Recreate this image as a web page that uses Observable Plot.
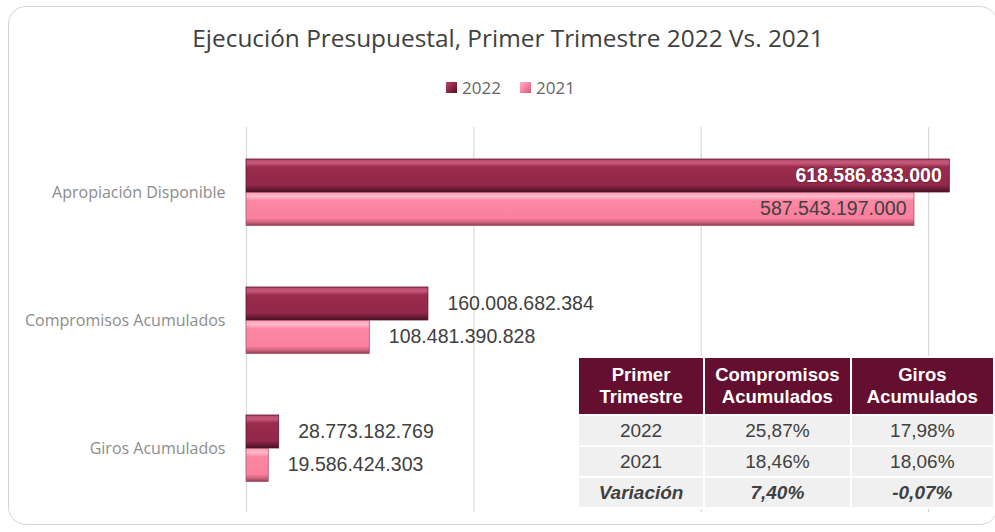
<!DOCTYPE html>
<html>
<head>
<meta charset="utf-8">
<script src="https://cdn.jsdelivr.net/npm/d3@7"></script>
<script src="https://cdn.jsdelivr.net/npm/@observablehq/plot@0.6"></script>
<style>
  html, body { margin: 0; padding: 0; background: #fff; }
  #wrap { position: relative; width: 995px; height: 532px; overflow: hidden; font-family: "Liberation Sans", Arial, sans-serif; }
  #frame { position: absolute; left: 8px; top: 6px; width: 990px; height: 519px; border: 1.5px solid #d4d4d4; border-radius: 18px; box-sizing: border-box; }
  #title { position: absolute; left: 0; width: 1016px; top: 21px; text-align: center; font-family: "Open Sans", "Noto Sans", sans-serif; font-size: 24.4px; color: #404040; }
  .leg { position: absolute; top: 76px; font-family: "Open Sans", "Noto Sans", sans-serif; font-size: 17px; color: #666; display: flex; align-items: center; }
  .sw { width: 11px; height: 11px; margin-right: 5px; }
  #chart { position: absolute; left: 0; top: 0; }
  #tbl { position: absolute; left: 577px; top: 356px; border-collapse: collapse; font-family: "Liberation Sans", Arial, sans-serif; }
  #tbl td, #tbl th { padding: 0; text-align: center; border: 2px solid #fff; }
  #tbl th { background: #640f2f; color: #fff; font-weight: bold; font-size: 18.5px; line-height: 22px; height: 56px; }
  #tbl td { background: #f0f0f0; color: #404040; font-size: 19px; height: 29px; }
  #tbl tr.var td { font-weight: bold; font-style: italic; }
</style>
</head>
<body>
<div id="wrap">
  <div id="frame"></div>
  <div id="title"></div>
  <div id="legend"></div>
  <div id="chart"></div>
  <table id="tbl"></table>
</div>
<script>
// ---- data ----
const titleText = "Ejecución Presupuestal, Primer Trimestre 2022 Vs. 2021";
const categories = ["Apropiación Disponible", "Compromisos Acumulados", "Giros Acumulados"];
const series = ["2022", "2021"];
const values2022 = [618586833000, 160008682384, 28773182769];
const values2021 = [587543197000, 108481390828, 19586424303];
const gridTicks = [0, 200e9, 400e9, 600e9];

const tableHeader = ["Primer<br>Trimestre", "Compromisos<br>Acumulados", "Giros<br>Acumulados"];
const tableRowLabels = ["2022", "2021", "Variación"];
const tableCompromisos = ["25,87%", "18,46%", "7,40%"];
const tableGiros = ["17,98%", "18,06%", "-0,07%"];

const seriesColors = { "2022": "#98294a", "2021": "#fd86a3" };

// ---- build ----
const locale = d3.formatLocale({ decimal: ",", thousands: ".", grouping: [3], currency: ["", ""] });
const fmt = locale.format(",d");

const data = categories.flatMap((c, i) => [
  { cat: c, year: series[0], value: values2022[i] },
  { cat: c, year: series[1], value: values2021[i] }
]);
const d22 = data.filter(d => d.year === "2022");
const d21 = data.filter(d => d.year === "2021");
const inside = d => d.cat === categories[0];

document.getElementById("title").textContent = titleText;

const legend = document.getElementById("legend");
const legX = [446, 520];
series.forEach((s, i) => {
  const el = document.createElement("div");
  el.className = "leg";
  el.style.left = legX[i] + "px";
  el.innerHTML = `<span class="sw" style="background:linear-gradient(135deg, ${i === 0 ? '#b3456a' : '#ffb0c4'} 0%, ${seriesColors[s]} 45%, ${i === 0 ? '#4a1024' : '#c85e78'} 100%)"></span>${s}`;
  legend.appendChild(el);
});

const labelFont = "Liberation Sans, Arial, sans-serif";

const chart = Plot.plot({
  width: 995,
  height: 532,
  marginLeft: 246,
  marginTop: 127,
  marginBottom: 20,
  marginRight: 10,
  style: { fontFamily: labelFont, background: "transparent", overflow: "visible" },
  x: { domain: [0, 650e9], axis: null },
  y: { domain: categories, padding: 0, axis: null },
  marks: [
    Plot.gridX(gridTicks, { stroke: "#d9d9d9", strokeOpacity: 1, strokeWidth: 1.2 }),
    Plot.axisY({ label: null, tickSize: 0, tickPadding: 21, fontSize: 16, fill: "#8c8c8c", fontFamily: "Open Sans, Noto Sans, sans-serif" }),
    Plot.barX(d22, { x: "value", y: "cat", fill: "url(#g2022)", stroke: "#5a1530", strokeWidth: 0.8, insetTop: 31, insetBottom: 64 }),
    Plot.barX(d21, { x: "value", y: "cat", fill: "url(#g2021)", stroke: "#a8566a", strokeWidth: 0.8, insetTop: 64.5, insetBottom: 30.5 }),
    Plot.text(d22.filter(inside), { x: "value", y: "cat", text: d => fmt(d.value), textAnchor: "end", dx: -8, dy: -17, fill: "#fff", fontWeight: "bold", fontSize: 19.5, stroke: "#3a0a18", strokeWidth: 1.5, strokeOpacity: 0.35 }),
    Plot.text(d21.filter(inside), { x: "value", y: "cat", text: d => fmt(d.value), textAnchor: "end", dx: -8, dy: 16.5, fill: "#404040", fontSize: 19.5 }),
    Plot.text(d22.filter(d => !inside(d)), { x: "value", y: "cat", text: d => fmt(d.value), textAnchor: "start", dx: 19, dy: -17, fill: "#404040", fontSize: 19.5 }),
    Plot.text(d21.filter(d => !inside(d)), { x: "value", y: "cat", text: d => fmt(d.value), textAnchor: "start", dx: 19, dy: 16.5, fill: "#404040", fontSize: 19.5 })
  ]
});

// bevel-like gradients
const svg = d3.select(chart);
const defs = svg.insert("defs", ":first-child");
function grad(id, stops) {
  const g = defs.append("linearGradient").attr("id", id).attr("x1", 0).attr("y1", 0).attr("x2", 0).attr("y2", 1);
  stops.forEach(([o, c]) => g.append("stop").attr("offset", o).attr("stop-color", c));
}
grad("g2022", [["0", "#b3456a"], ["0.12", "#c65b7e"], ["0.24", "#9a2b4c"], ["0.78", "#93284a"], ["0.9", "#6d1b37"], ["1", "#4a1024"]]);
grad("g2021", [["0", "#ff9ab4"], ["0.12", "#ffbccd"], ["0.24", "#fd88a4"], ["0.78", "#f97f9d"], ["0.9", "#cf637d"], ["1", "#8e4053"]]);
document.getElementById("chart").appendChild(chart);

// table
const tbl = document.getElementById("tbl");
const colW = [125, 145, 142];
let html = "<tr>" + tableHeader.map((h, i) => `<th style="width:${colW[i]}px">${h}</th>`).join("") + "</tr>";
tableRowLabels.forEach((r, i) => {
  html += `<tr class="${i === 2 ? 'var' : ''}"><td>${r}</td><td>${tableCompromisos[i]}</td><td>${tableGiros[i]}</td></tr>`;
});
tbl.innerHTML = html;
</script>
</body>
</html>
